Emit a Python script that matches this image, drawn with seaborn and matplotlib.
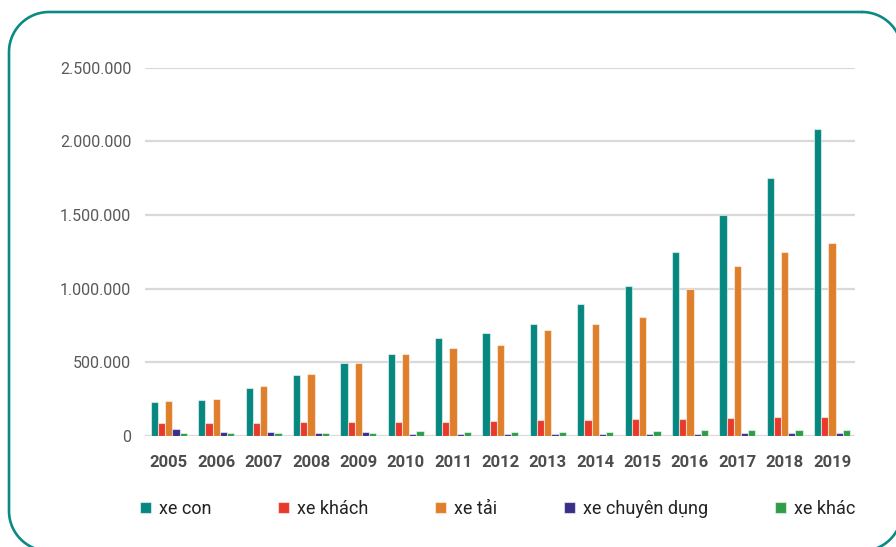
import numpy as np
import pandas as pd
import matplotlib.pyplot as plt
import seaborn as sns
from matplotlib.ticker import FuncFormatter

# === Daten ===
years = [str(y) for y in range(2005, 2020)]
types = ["xe con", "xe khách", "xe tải", "xe chuyên dụng", "xe khác"]

xe_con = [228000, 243000, 329000, 414000, 495000, 556000, 663000, 697000,
          758000, 896000, 1018000, 1250000, 1500000, 1750000, 2082000]
xe_khach = [88000, 88000, 91000, 93000, 95000, 98000, 98000, 102000,
            105000, 109000, 113000, 118000, 122000, 129000, 131000]
xe_tai = [236000, 254000, 336000, 419000, 493000, 556000, 595000, 616000,
          717000, 758000, 806000, 1000000, 1152000, 1250000, 1311000]
xe_chuyen_dung = [50000, 30000, 25000, 23000, 24000, 13000, 12000, 12000,
                  12000, 12000, 13000, 16000, 22000, 22000, 22000]
xe_khac = [20000, 18000, 18000, 17000, 18000, 37000, 26000, 25000,
           25000, 27000, 32000, 41000, 39000, 41000, 39000]

colors = ["#068780", "#E83A2B", "#E07F2B", "#3A2F8B", "#2F9D48"]

# Long-Format für seaborn
df = pd.DataFrame({
    "year": years * 5,
    "type": [t for t in types for _ in years],
    "value": xe_con + xe_khach + xe_tai + xe_chuyen_dung + xe_khac,
})


def rounded_rect(x0, y0, x1, y1, r, n=30):
    """Umriss eines Rechtecks mit runden Ecken als Polylinie."""
    corners = [(x1 - r, y0 + r, -90, 0), (x1 - r, y1 - r, 0, 90),
               (x0 + r, y1 - r, 90, 180), (x0 + r, y0 + r, 180, 270)]
    xs, ys = [], []
    for cx, cy, a0, a1 in corners:
        t = np.radians(np.linspace(a0, a1, n))
        xs.extend(cx + r * np.cos(t))
        ys.extend(cy + r * np.sin(t))
    xs.append(xs[0])
    ys.append(ys[0])
    return xs, ys


sns.set_theme(style="white")
plt.rcParams["font.family"] = ["Roboto", "DejaVu Sans"]

fig = plt.figure(figsize=(8.96, 5.47), dpi=100)

# Rahmen (Hintergrund-Achse in Pixeln, y nach unten)
bg = fig.add_axes([0, 0, 1, 1])
bg.set_xlim(0, 896)
bg.set_ylim(547, 0)
bg.axis("off")
fx, fy = rounded_rect(9, 12, 902, 551, 40)
bg.plot(fx, fy, color="#0b8a84", linewidth=1.9, solid_capstyle="round")

ax = fig.add_axes([0.162, 0.203, 0.792, 0.673])

sns.barplot(data=df, x="year", y="value", hue="type", hue_order=types,
            palette=colors, width=0.76, saturation=1, ax=ax,
            edgecolor=(1, 1, 1, 0.55), linewidth=0.8, legend=True)

ax.set_ylim(0, 2500000)
ax.set_xlim(-0.5, 14.48)
ax.set_yticks(range(0, 2500001, 500000))
ax.yaxis.set_major_formatter(FuncFormatter(lambda v, _: f"{v:,.0f}".replace(",", ".")))
ax.grid(axis="y", color="#d9d9d9", linewidth=1.6)
ax.set_axisbelow(True)
ax.patch.set_alpha(0)
for s in ax.spines.values():
    s.set_visible(False)
ax.set_xlabel("")
ax.set_ylabel("")
ax.tick_params(axis="y", length=0, pad=10, labelsize=11.5, labelcolor="#595959")
ax.tick_params(axis="x", length=0, pad=14, labelsize=12, labelcolor="#4d4d4d")
for lab in ax.get_xticklabels():
    lab.set_fontweight("bold")

leg = ax.legend(loc="center", bbox_to_anchor=(0.497, -0.198), ncol=5,
                frameon=False, fontsize=13, handlelength=0.6, handleheight=0.6,
                handletextpad=0.45, columnspacing=3.7, labelcolor="#222222")

fig.savefig("out.png", dpi=100)
